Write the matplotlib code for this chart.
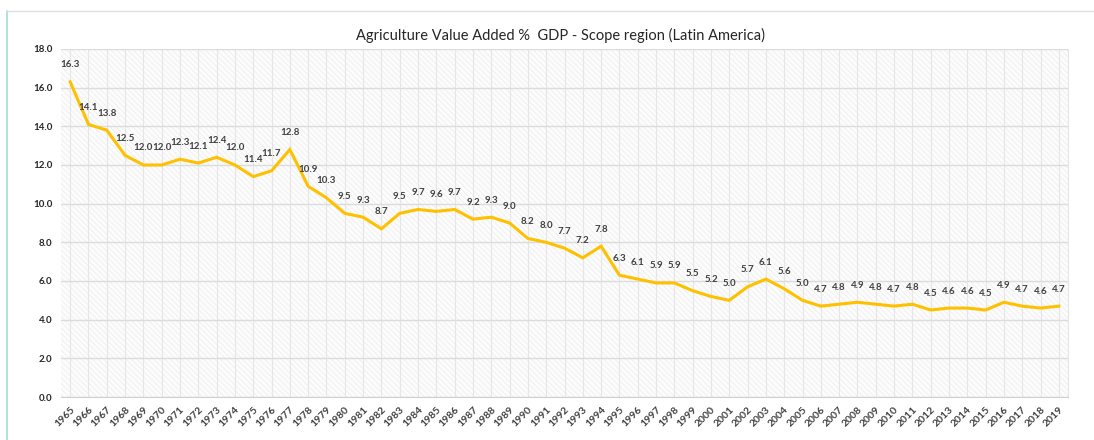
import matplotlib
matplotlib.use("Agg")
import matplotlib.pyplot as plt
from matplotlib.lines import Line2D
from matplotlib.patches import Rectangle

years = list(range(1965, 2020))
values = [16.3, 14.1, 13.8, 12.5, 12.0, 12.0, 12.3, 12.1, 12.4, 12.0,
          11.4, 11.7, 12.8, 10.9, 10.3, 9.5, 9.3, 8.7, 9.5, 9.7,
          9.6, 9.7, 9.2, 9.3, 9.0, 8.2, 8.0, 7.7, 7.2, 7.8,
          6.3, 6.1, 5.9, 5.9, 5.5, 5.2, 5.0, 5.7, 6.1, 5.6,
          5.0, 4.7, 4.8, 4.9, 4.8, 4.7, 4.8, 4.5, 4.6, 4.6,
          4.5, 4.9, 4.7, 4.6, 4.7]
y_ticks = [0, 2, 4, 6, 8, 10, 12, 14, 16, 18]
title = "Agriculture Value Added %  GDP - Scope region (Latin America)"

plt.rcParams["font.family"] = ["Lato", "DejaVu Sans"]
plt.rcParams["hatch.linewidth"] = 0.5

fig = plt.figure(figsize=(10.94, 4.40), dpi=100)
ax = fig.add_axes([61 / 1094, 43 / 440, (1068 - 61) / 1094, (397 - 49) / 440])

x = list(range(len(years)))
ax.set_xlim(-0.5, len(years) - 0.5)
ax.set_ylim(0, 18)

# hatched plot-area background
ax.add_patch(Rectangle((0, 0), 1, 1, transform=ax.transAxes, facecolor="#fcfcfc",
                       edgecolor="#ececec", hatch="\\\\\\\\\\\\", linewidth=0, zorder=0))

for xi in x:
    ax.axvline(xi, color="#e6e6e6", lw=0.8, zorder=1)
for yt in y_ticks:
    ax.axhline(yt, color="#dcdcdc", lw=1.0, zorder=1)

ax.plot(x, values, color="#FFC000", lw=2.2, zorder=3, solid_joinstyle="miter")

for xi, v in zip(x, values):
    ax.annotate(f"{v:.1f}", (xi, v), xytext=(0, 9), textcoords="offset points",
                ha="center", va="bottom", fontsize=7, color="#404040",
                fontweight="bold", zorder=4)

ax.set_yticks(y_ticks)
ax.set_yticklabels([f"{t:.1f}" for t in y_ticks], fontsize=7, fontweight="bold",
                   color="#262626")
ax.set_xticks(x)
ax.set_xticklabels([str(y) for y in years], rotation=45, ha="right",
                   rotation_mode="anchor", fontsize=7.5, color="#404040",
                   fontweight="bold")
ax.tick_params(axis="both", length=0, pad=6)
ax.tick_params(axis="x", pad=6)
for s in ["top", "left"]:
    ax.spines[s].set_visible(False)
ax.spines["bottom"].set_color("#d0d0d0")
ax.spines["right"].set_color("#e6e6e6")

fig.text(560 / 1094, 1 - 35 / 440, title, ha="center", va="center",
         fontsize=10.5, color="#262626")

# chart frame
fig.add_artist(Line2D([7 / 1094, 7 / 1094], [0, 1 - 11 / 440],
                      transform=fig.transFigure, color="#9fdede", lw=1.2))
fig.add_artist(Line2D([7 / 1094, 1], [1 - 11 / 440, 1 - 11 / 440],
                      transform=fig.transFigure, color="#e0e0e0", lw=1.0))

fig.savefig("out.png", dpi=100)
